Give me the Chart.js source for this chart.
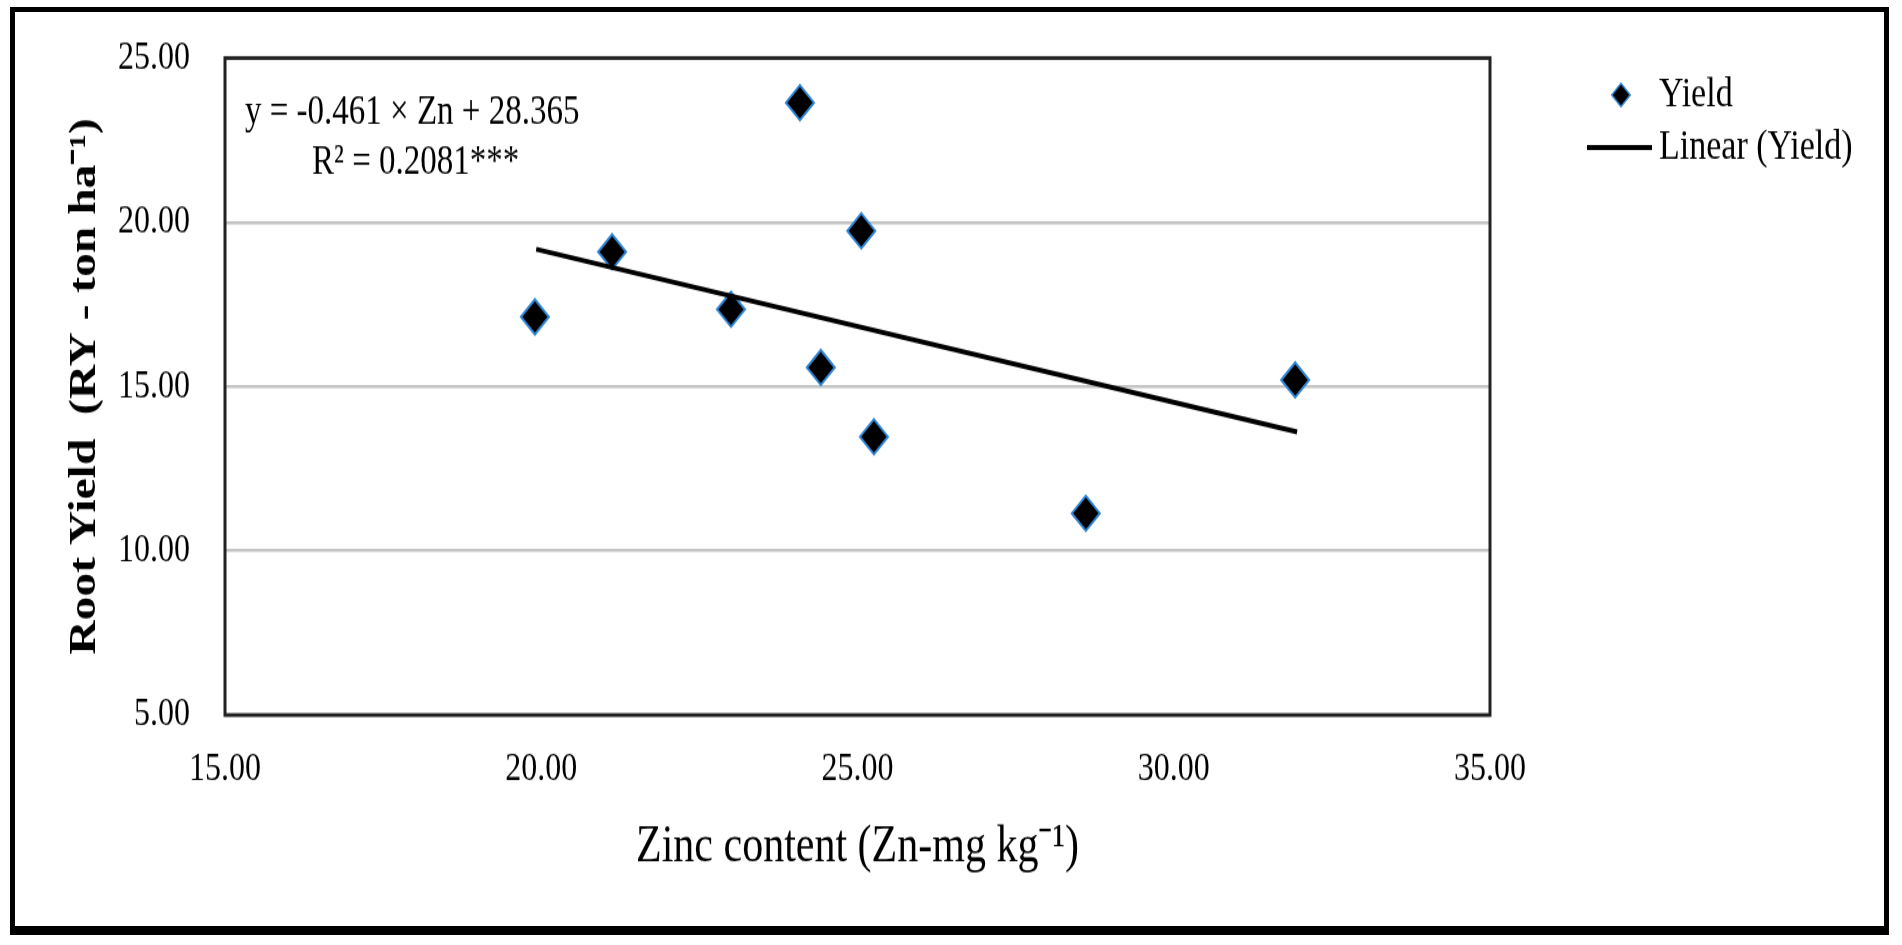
<!DOCTYPE html>
<html>
<head>
<meta charset="utf-8">
<title>Root Yield vs Zinc content</title>
<script src="https://cdn.jsdelivr.net/npm/chart.js@4.4.1/dist/chart.umd.min.js"></script>
<style>
  html, body { margin: 0; padding: 0; background: #fff; }
  body { width: 1902px; height: 945px; position: relative; overflow: hidden; }
  #frame {
    position: absolute; left: 10px; top: 7px;
    width: 1869px; height: 914px;
    border: 5px solid #000; border-bottom-width: 9px;
  }
  /* the source picture is stretched vertically, so is ours */
  #stretch {
    position: absolute; left: 0; top: 0;
    width: 1902px; height: 756px;
    transform: scaleY(1.25); transform-origin: 0 0;
  }
</style>
</head>
<body>
<div id="frame"></div>
<div id="stretch"><canvas id="zincChart"></canvas></div>
<script>
// data
const zinc       = [19.90, 21.12, 23.00, 24.09, 24.42, 25.06, 25.26, 28.61, 31.92];
const rootYield  = [17.12, 19.10, 17.35, 23.64, 15.58, 19.74, 13.47, 11.14, 15.20];
const trendZinc  = [19.92, 31.95];
const trendYield = [19.18, 13.62];
const xTicks = [15, 20, 25, 30, 35];
const yTicks = [5, 10, 15, 20, 25];

const eqText = 'y = -0.461 × Zn + 28.365';
const r2Text = 'R² = 0.2081***';
const seriesLabel = 'Yield';
const trendLabel  = 'Linear (Yield)';

const SERIF = '"Liberation Serif", "Times New Roman", serif';

(function () {
  const canvas = document.getElementById('zincChart');
  if (typeof Chart === 'undefined') {
    console.warn('Chart.js not found');
    return;
  }

  function diamond(ctx, x, y, r, fill, stroke, lw) {
    const h = r * Math.SQRT1_2;
    ctx.beginPath();
    ctx.moveTo(x, y - h);
    ctx.lineTo(x + h, y);
    ctx.lineTo(x, y + h);
    ctx.lineTo(x - h, y);
    ctx.closePath();
    ctx.fillStyle = fill;
    ctx.fill();
    ctx.lineWidth = lw;
    ctx.strokeStyle = stroke;
    ctx.stroke();
  }

  // plot frame + equation text
  const frameAndText = {
    id: 'frameAndText',
    afterDatasetsDraw(chart) {
      const { ctx, chartArea: a } = chart;
      ctx.save();
      ctx.lineWidth = 3;
      ctx.strokeStyle = '#222';
      ctx.strokeRect(a.left, a.top, a.right - a.left, a.bottom - a.top);

      ctx.fillStyle = '#000';
      ctx.font = '33px ' + SERIF;
      ctx.textBaseline = 'middle';
      ctx.textAlign = 'left';
      ctx.fillText(eqText, 245, 90);
      ctx.fillText(r2Text, 312, 130);
      ctx.restore();
    }
  };

  // legend on the right, drawn by hand
  const sideLegend = {
    id: 'sideLegend',
    afterDraw(chart) {
      const ctx = chart.ctx;
      ctx.save();
      ctx.font = '34px ' + SERIF;
      ctx.textBaseline = 'middle';
      ctx.textAlign = 'left';

      diamond(ctx, 1621, 76, 13, '#000', '#2f86d6', 1.5);
      ctx.fillStyle = '#000';
      ctx.fillText(seriesLabel, 1659, 76);

      ctx.beginPath();
      ctx.moveTo(1587, 118);
      ctx.lineTo(1652, 118);
      ctx.lineWidth = 4;
      ctx.strokeStyle = '#000';
      ctx.stroke();
      ctx.fillText(trendLabel, 1659, 118);
      ctx.restore();
    }
  };

  new Chart(canvas.getContext('2d'), {
    type: 'scatter',
    data: {
      datasets: [
        {
          label: seriesLabel,
          data: zinc.map((x, i) => ({ x, y: rootYield[i] })),
          pointStyle: 'rectRot',
          pointRadius: 14,
          pointHoverRadius: 14,
          backgroundColor: '#000',
          borderColor: '#2f86d6',
          borderWidth: 2,
          order: 1
        },
        {
          label: trendLabel,
          type: 'line',
          data: trendZinc.map((x, i) => ({ x, y: trendYield[i] })),
          borderColor: '#000',
          borderWidth: 4,
          pointRadius: 0,
          fill: false,
          order: 0
        }
      ]
    },
    options: {
      responsive: true,
      maintainAspectRatio: false,
      animation: false,
      layout: {
        padding: { left: 12, right: 412, top: 46.4, bottom: 34 }
      },
      plugins: {
        legend: { display: false },
        tooltip: { enabled: false }
      },
      scales: {
        x: {
          type: 'linear',
          min: 15,
          max: 35,
          afterBuildTicks: (s) => { s.ticks = xTicks.map(v => ({ value: v })); },
          afterFit: (s) => { s.height = 150; },
          grid: { display: false, drawTicks: false },
          border: { display: false },
          ticks: {
            padding: 24,
            color: '#000',
            font: { family: SERIF, size: 32 },
            callback: (v) => Number(v).toFixed(2)
          },
          title: {
            display: true,
            text: 'Zinc content (Zn-mg kg⁻¹)',
            color: '#000',
            font: { family: SERIF, size: 42 },
            padding: { top: 0, bottom: 19 }
          }
        },
        y: {
          type: 'linear',
          min: 5,
          max: 25,
          afterBuildTicks: (s) => { s.ticks = yTicks.map(v => ({ value: v })); },
          afterFit: (s) => { s.width = 213; },
          grid: {
            color: '#c4c4c4',
            lineWidth: 2.4,
            drawTicks: true,
            tickLength: 30,
            tickColor: 'rgba(0,0,0,0)'
          },
          border: { display: false },
          ticks: {
            padding: 5,
            color: '#000',
            font: { family: SERIF, size: 32 },
            callback: (v) => Number(v).toFixed(2)
          },
          title: {
            display: true,
            text: 'Root Yield  (RY - ton ha⁻¹)',
            color: '#000',
            font: { family: SERIF, size: 38, weight: 'bold' },
            padding: { top: 50, bottom: 0 }
          }
        }
      }
    },
    plugins: [frameAndText, sideLegend]
  });
})();
</script>
</body>
</html>
